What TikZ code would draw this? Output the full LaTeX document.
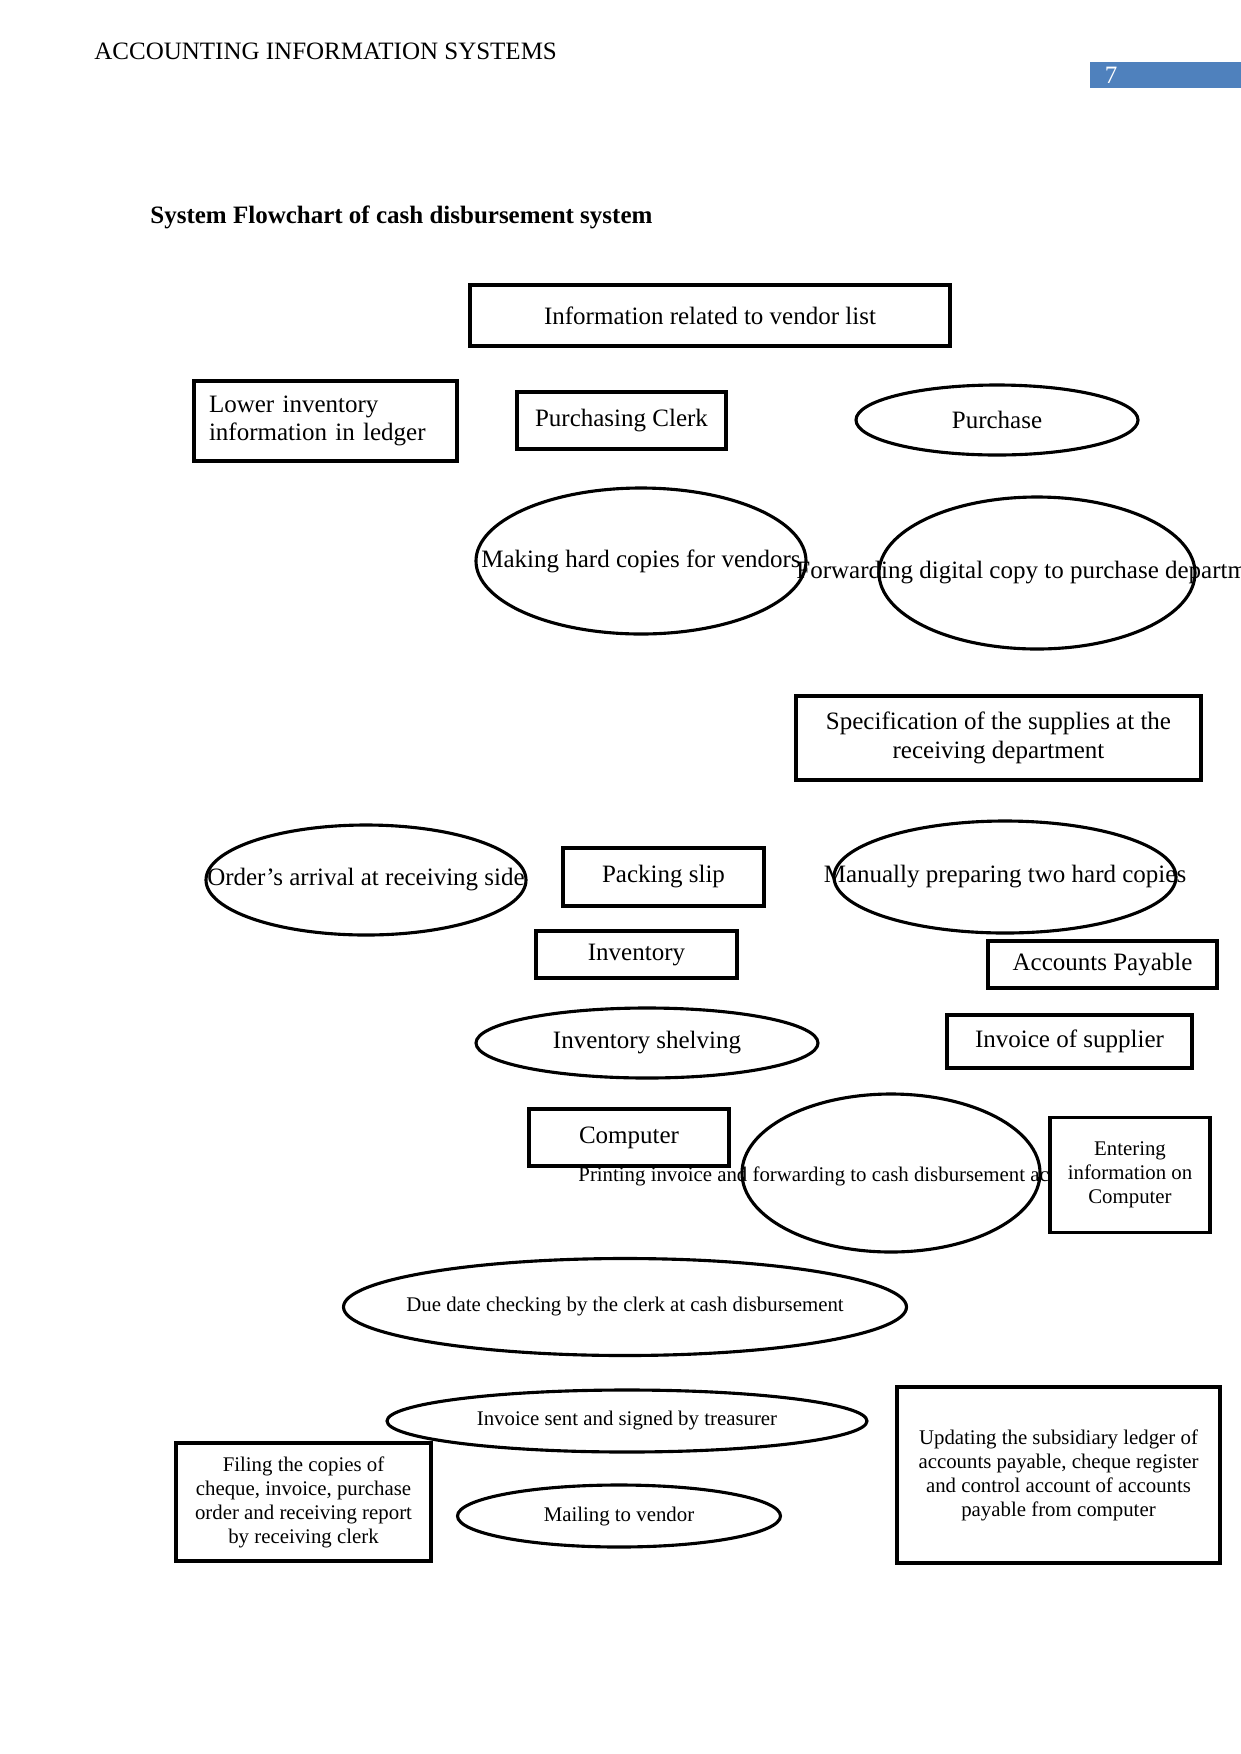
\documentclass[tikz,border=0pt]{standalone}
\usepackage{fontspec}
\setmainfont{Liberation Serif}
\usetikzlibrary{shapes.geometric}
\definecolor{hdrblue}{RGB}{79,129,189}
\newcommand\fsA{\fontsize{12}{13.8}\selectfont}
\newcommand\fsB{\fontsize{10}{11.5}\selectfont}
\tikzset{
  box/.style={draw, line width=1.6pt, rectangle, inner sep=0pt, fill=white, font=\fsA, align=center},
  oval/.style={draw, line width=1.5pt, ellipse, inner sep=0pt, font=\fsA},
  sz/.style 2 args={minimum width=#1*0.48pt, minimum height=#2*0.48pt},
  plain/.style={inner sep=0pt, font=\fsA},
}
\begin{document}
\begin{tikzpicture}[x=0.48pt,y=-0.48pt]
\useasboundingbox (0,0) rectangle (1241,1754);
\fill[white] (0,0) rectangle (1241,1754);

% header
\node[plain, anchor=west] (hdr) at (94,51) {ACCOUNTING INFORMATION SYSTEMS};
\node[fill=hdrblue, inner sep=0pt, sz={151}{26}, anchor=north west] (pg) at (1090,62) {};
\node[plain, text=white] (pgnum) at (1111,75) {7};
\node[plain, anchor=west, font=\fsA\bfseries] (title) at (150,217) {System Flowchart of cash disbursement system};

% row 1
\node[box, sz={480}{61}] (vend) at (710,315.5) {Information related to vendor list};
\node[box, sz={263}{80}, align=left, text width=233*0.48pt] (lower) at (325.5,421) {Lower inventory\\information in ledger};
\node[box, sz={209}{57}] (clerk) at (621.5,420.5) {Purchasing Clerk};
\node[oval, sz={282}{70}] (purch) at (997,420) {\makebox[0pt]{Purchase}};

% row 2
\node[oval, sz={330}{146}] (making) at (641,561) {\makebox[0pt]{Making hard copies for vendors}};
\node[oval, sz={316}{152}] (fwd) at (1037,573) {\makebox[0pt]{Forwarding digital copy to purchase department}};

% spec
\node[box, sz={405}{84}] (spec) at (998.5,738) {Specification of the supplies at the\\receiving department};

% row 3
\node[oval, sz={320}{110}] (order) at (366,880) {\makebox[0pt]{Order’s arrival at receiving side}};
\node[box, sz={201}{58}] (pack) at (663.5,877) {Packing slip};
\node[oval, sz={342}{112}] (manual) at (1005,877) {\makebox[0pt]{Manually preparing two hard copies}};

\node[box, sz={201}{47}] (inv) at (636.5,954.5) {Inventory};
\node[box, sz={229}{47}] (ap) at (1102.5,964.5) {Accounts Payable};

\node[oval, sz={342}{70}] (shelf) at (647,1043) {\makebox[0pt]{Inventory shelving}};
\node[box, sz={245}{53}] (sup) at (1069.5,1041.5) {Invoice of supplier};

% computer row
\node[box, sz={200}{57}] (comp) at (629,1137.5) {Computer};
\node[plain, font=\fsB, anchor=west] (printtxt) at (578,1176) {Printing invoice and forwarding to cash disbursement ac};
\node[oval, sz={298}{158}] (print) at (891,1173) {};
\node[box, sz={160}{115}, font=\fsB] (enter) at (1130,1175) {Entering\\information on\\Computer};

% due date
\node[oval, sz={563}{97}, font=\fsB] (due) at (625,1307) {\makebox[0pt]{Due date checking by the clerk at cash disbursement}};

% bottom
\node[oval, sz={480}{62}, font=\fsB] (sent) at (627,1421) {\makebox[0pt]{Invoice sent and signed by treasurer}};
\node[box, sz={255}{118}, font=\fsB] (filing) at (303.5,1502) {Filing the copies of\\cheque, invoice, purchase\\order and receiving report\\by receiving clerk};
\node[oval, sz={323}{62}, font=\fsB] (mail) at (619,1516) {\makebox[0pt]{Mailing to vendor}};
\node[box, sz={323}{176}, font=\fsB] (upd) at (1058.5,1475) {Updating the subsidiary ledger of\\accounts payable, cheque register\\and control account of accounts\\payable from computer};
\end{tikzpicture}
\end{document}
